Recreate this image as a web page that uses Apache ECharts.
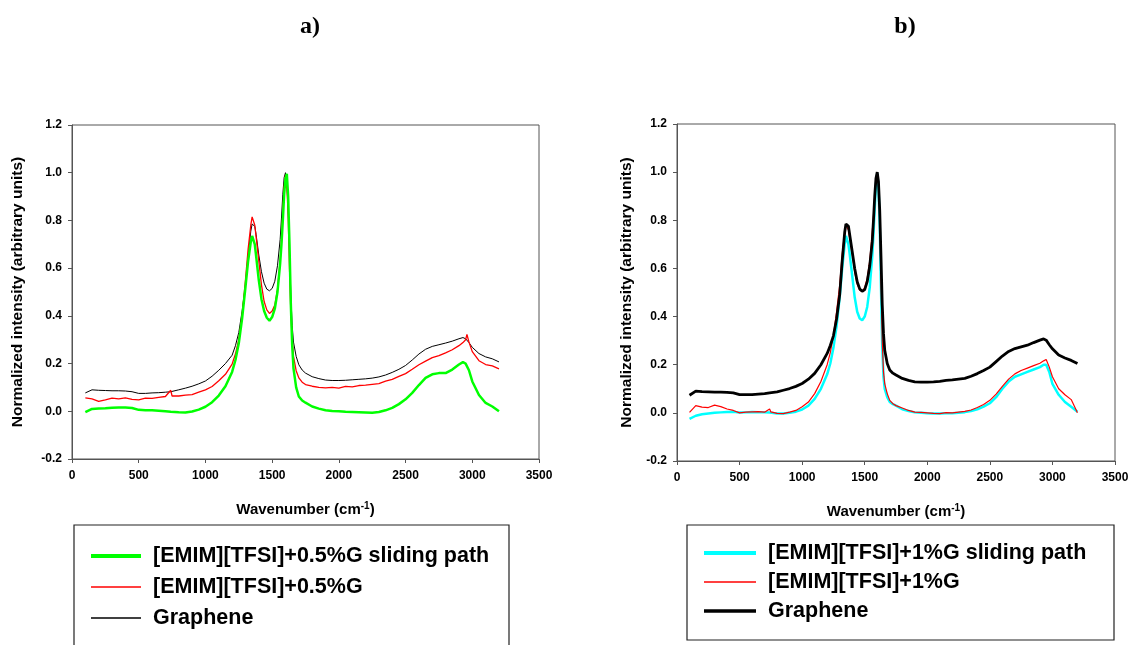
<!DOCTYPE html>
<html>
<head>
<meta charset="utf-8">
<script src="https://cdn.jsdelivr.net/npm/echarts@6/dist/echarts.min.js"></script>
<style>
html,body{margin:0;padding:0;background:#fff;}
#chart{width:1133px;height:645px;}
</style>
</head>
<body>
<div id="chart"></div>
<script>
// Wavenumbers (cm-1) shared by all spectra
const wavenumbers = [
  100,150,200,250,300,350,400,450,500,550,600,650,700,
  740,750,
  800,850,900,950,1000,1050,1100,1150,1200,
  1225,1250,1275,1300,
  1320,1340,1350,1360,1370,1380,
  1400,1420,1440,1460,1480,1500,1520,1540,
  1560,1570,1580,1590,1600,1610,1620,1630,1640,1650,1660,
  1680,1700,1725,1750,
  1800,1850,1900,1950,2000,2050,2100,2150,2200,2250,2300,2350,2400,2450,2500,2550,2600,2650,2700,2750,2800,2850,2900,
  2930,2950,2960,2975,
  3000,3050,3100,3150,3200
];

// Panel a)
const grapheneA = [
  0.077,0.090,0.088,0.087,0.086,0.086,0.085,0.082,0.075,0.075,0.077,0.078,0.080,
  0.082,0.082,
  0.090,0.097,0.105,0.115,0.127,0.147,0.172,0.200,0.235,
  0.275,0.330,0.420,0.530,
  0.645,0.755,0.785,0.790,0.775,0.740,
  0.655,0.585,0.537,0.512,0.505,0.515,0.545,0.610,
  0.720,0.810,0.910,0.980,1.000,0.960,0.850,0.680,0.490,0.360,0.290,
  0.230,0.195,0.173,0.160,
  0.145,0.137,0.131,0.129,0.129,0.130,0.132,0.134,0.136,0.139,0.144,0.152,0.163,0.176,0.192,0.215,0.240,0.260,0.272,0.279,0.286,0.294,0.304,
  0.309,0.304,0.298,0.288,
  0.268,0.242,0.228,0.220,0.207
];
const emimA = [
  0.056,0.052,0.042,0.048,0.055,0.052,0.056,0.050,0.048,0.055,0.054,0.058,0.062,
  0.088,0.064,
  0.064,0.068,0.070,0.080,0.090,0.104,0.128,0.155,0.198,
  0.240,0.300,0.400,0.550,
  0.680,0.780,0.815,0.810,0.780,0.730,
  0.630,0.530,0.460,0.425,0.410,0.420,0.445,0.510,
  0.630,0.710,0.830,0.940,0.990,0.950,0.820,0.600,0.420,0.300,0.230,
  0.170,0.140,0.122,0.112,
  0.105,0.100,0.098,0.100,0.097,0.104,0.102,0.108,0.110,0.113,0.116,0.126,0.134,0.146,0.158,0.176,0.195,0.210,0.225,0.233,0.245,0.258,0.275,
  0.288,0.300,0.322,0.290,
  0.250,0.212,0.196,0.190,0.178
];
const slidingA = [
  -0.004,0.010,0.012,0.013,0.015,0.016,0.016,0.014,0.006,0.004,0.004,0.002,0.000,
  -0.002,-0.002,
  -0.004,-0.005,-0.001,0.007,0.019,0.038,0.066,0.105,0.165,
  0.215,0.285,0.390,0.520,
  0.630,0.710,0.735,0.730,0.700,0.650,
  0.550,0.470,0.420,0.392,0.380,0.395,0.430,0.500,
  0.620,0.700,0.800,0.910,0.975,0.995,0.900,0.700,0.450,0.280,0.180,
  0.100,0.062,0.045,0.036,
  0.020,0.011,0.004,0.001,0.000,-0.002,-0.003,-0.004,-0.005,-0.006,-0.003,0.004,0.014,0.030,0.050,0.077,0.110,0.140,0.155,0.160,0.160,0.175,0.196,
  0.206,0.200,0.192,0.172,
  0.125,0.068,0.035,0.020,0.000
];

// Panel b)
const grapheneB = [
  0.073,0.090,0.088,0.087,0.086,0.086,0.085,0.083,0.076,0.076,0.076,0.078,0.080,
  0.083,0.083,
  0.087,0.094,0.101,0.110,0.122,0.140,0.164,0.200,0.247,
  0.280,0.320,0.390,0.490,
  0.630,0.750,0.785,0.790,0.775,0.740,
  0.670,0.600,0.545,0.515,0.505,0.512,0.545,0.610,
  0.710,0.800,0.900,0.975,1.000,0.960,0.840,0.650,0.450,0.330,0.260,
  0.205,0.178,0.165,0.157,
  0.143,0.135,0.129,0.128,0.128,0.129,0.131,0.135,0.137,0.140,0.143,0.152,0.163,0.176,0.190,0.213,0.236,0.255,0.267,0.274,0.281,0.292,0.302,
  0.307,0.302,0.295,0.283,
  0.266,0.240,0.228,0.218,0.205
];
const emimB = [
  0.002,0.030,0.024,0.022,0.032,0.026,0.016,0.010,0.000,0.003,0.004,0.005,0.003,
  0.016,0.004,
  -0.002,-0.003,0.003,0.010,0.025,0.045,0.080,0.130,0.200,
  0.250,0.320,0.420,0.530,
  0.660,0.750,0.780,0.780,0.760,0.725,
  0.660,0.585,0.535,0.510,0.505,0.520,0.560,0.630,
  0.750,0.820,0.900,0.970,0.990,0.950,0.800,0.550,0.300,0.170,0.120,
  0.080,0.052,0.038,0.030,
  0.020,0.010,0.003,0.002,0.000,-0.002,-0.003,0.001,0.000,0.003,0.006,0.012,0.022,0.035,0.052,0.078,0.110,0.140,0.162,0.176,0.186,0.196,0.206,
  0.216,0.222,0.215,0.190,
  0.150,0.100,0.075,0.055,0.000
];
const slidingB = [
  -0.025,-0.012,-0.006,-0.003,0.000,0.002,0.004,0.005,0.001,0.002,0.004,0.003,0.002,
  0.001,0.000,
  -0.003,-0.003,0.000,0.005,0.014,0.030,0.058,0.100,0.160,
  0.205,0.270,0.360,0.480,
  0.600,0.700,0.735,0.730,0.700,0.660,
  0.570,0.480,0.420,0.392,0.385,0.400,0.440,0.520,
  0.650,0.740,0.850,0.950,0.995,0.940,0.780,0.520,0.280,0.150,0.100,
  0.065,0.045,0.036,0.030,
  0.015,0.008,0.002,0.000,-0.002,-0.003,-0.003,-0.002,-0.002,0.000,0.003,0.008,0.015,0.026,0.040,0.065,0.100,0.130,0.150,0.160,0.170,0.180,0.190,
  0.200,0.200,0.195,0.170,
  0.120,0.075,0.045,0.025,0.005
];

const xTicks = { min: 0, max: 3500, interval: 500 };
const yTicks = { min: -0.2, max: 1.2, interval: 0.2 };

const nameA1 = '[EMIM][TFSI]+0.5%G sliding path';
const nameA2 = '[EMIM][TFSI]+0.5%G';
const nameB1 = '[EMIM][TFSI]+1%G sliding path';
const nameB2 = '[EMIM][TFSI]+1%G';
const nameG = 'Graphene';

const pairs = v => wavenumbers.map((w, i) => [w, v[i]]);
const FONT = "'Liberation Sans', Arial, sans-serif";
const axisCol = '#555';

function xAxisCfg(gi) {
  return {
    gridIndex: gi, type: 'value', min: xTicks.min, max: xTicks.max, interval: xTicks.interval,
    name: 'Wavenumber (cm{sup|-1})', nameLocation: 'middle', nameGap: 42,
    nameTextStyle: { fontFamily: FONT, fontWeight: 'bold', fontSize: 15, color: '#000',
      rich: { sup: { fontFamily: FONT, fontWeight: 'bold', fontSize: 10, verticalAlign: 'top', padding: [0,0,8,0], color: '#000' } } },
    axisLine: { show: true, onZero: false, lineStyle: { color: axisCol, width: 1 } },
    axisTick: { show: true, inside: false, length: 4, lineStyle: { color: axisCol } },
    axisLabel: { margin: 11, fontFamily: FONT, fontWeight: 'bold', fontSize: 12, color: '#000',
      formatter: v => String(v) },
    splitLine: { show: false }
  };
}
function yAxisCfg(gi, gap) {
  return {
    gridIndex: gi, type: 'value', min: yTicks.min, max: yTicks.max, interval: yTicks.interval,
    name: 'Normalized intensity (arbitrary units)', nameLocation: 'middle', nameGap: gap, nameRotate: 90,
    nameTextStyle: { fontFamily: FONT, fontWeight: 'bold', fontSize: 15.5, color: '#000' },
    axisLine: { show: true, onZero: false, lineStyle: { color: axisCol, width: 1 } },
    axisTick: { show: true, inside: false, length: 4, lineStyle: { color: axisCol } },
    axisLabel: { margin: 10, fontFamily: FONT, fontWeight: 'bold', fontSize: 12, color: '#000',
      formatter: v => v.toFixed(1) },
    splitLine: { show: false }
  };
}
function line(name, data, color, width, xi) {
  return {
    name, type: 'line', xAxisIndex: xi, yAxisIndex: xi, data: pairs(data),
    symbol: 'none', showSymbol: false, smooth: false, silent: true,
    lineStyle: { color, width }, itemStyle: { color }
  };
}
const legendText = { fontFamily: FONT, fontWeight: 'bold', fontSize: 21.5, color: '#000', lineHeight: 24, padding: [0,0,0,7] };
const noSym = { opacity: 0, color: 'transparent', borderWidth: 0 };

const chart = echarts.init(document.getElementById('chart'), null, { renderer: 'canvas' });
chart.setOption({
  animation: false,
  backgroundColor: '#fff',
  title: [
    { text: 'a)', left: 305, top: 10, textAlign: 'center',
      textStyle: { fontFamily: "'Liberation Serif', 'Times New Roman', serif", fontWeight: 'bold', fontSize: 24, color: '#000' } },
    { text: 'b)', left: 900, top: 10, textAlign: 'center',
      textStyle: { fontFamily: "'Liberation Serif', 'Times New Roman', serif", fontWeight: 'bold', fontSize: 24, color: '#000' } }
  ],
  grid: [
    { left: 72, top: 125, width: 467, height: 334, show: true, borderColor: axisCol, borderWidth: 1, backgroundColor: 'transparent' },
    { left: 677, top: 124, width: 438, height: 337, show: true, borderColor: axisCol, borderWidth: 1, backgroundColor: 'transparent' }
  ],
  xAxis: [xAxisCfg(0), xAxisCfg(1)],
  yAxis: [yAxisCfg(0, 46), yAxisCfg(1, 42)],
  graphic: [
    { type: 'rect', shape: { x: 74, y: 525, width: 435, height: 140 }, style: { fill: 'none', stroke: '#222', lineWidth: 1.2 }, z: 1 },
    { type: 'rect', shape: { x: 687, y: 525, width: 427, height: 115 }, style: { fill: 'none', stroke: '#222', lineWidth: 1.2 }, z: 1 }
  ],
  legend: [
    { orient: 'vertical', left: 89, top: 544, padding: 0, itemGap: 7, itemWidth: 50, itemHeight: 14,
      selectedMode: false, textStyle: legendText, itemStyle: noSym,
      data: [ { name: nameA1, itemStyle: noSym, lineStyle: { width: 4, color: '#00ff00' } },
              { name: nameA2, itemStyle: noSym, lineStyle: { width: 1.5, color: '#ff0000' } },
              { name: nameG, itemStyle: noSym, lineStyle: { width: 1.5, color: '#000' } } ] },
    { orient: 'vertical', left: 702, top: 541, padding: 0, itemGap: 5, itemWidth: 52, itemHeight: 14,
      selectedMode: false, textStyle: legendText, itemStyle: noSym,
      data: [ { name: nameB1, itemStyle: noSym, lineStyle: { width: 4, color: '#00ffff' } },
              { name: nameB2, itemStyle: noSym, lineStyle: { width: 1.5, color: '#ff0000' } },
              { name: nameG, itemStyle: noSym, lineStyle: { width: 3.5, color: '#000' } } ] }
  ],
  series: [
    line(nameG, grapheneA, '#000000', 1, 0),
    line(nameA2, emimA, '#ff0000', 1.3, 0),
    line(nameA1, slidingA, '#00ff00', 2.5, 0),
    line(nameB1, slidingB, '#00ffff', 2.5, 1),
    line(nameB2, emimB, '#ff0000', 1.2, 1),
    line(nameG, grapheneB, '#000000', 2.8, 1)
  ]
});
</script>
</body>
</html>
